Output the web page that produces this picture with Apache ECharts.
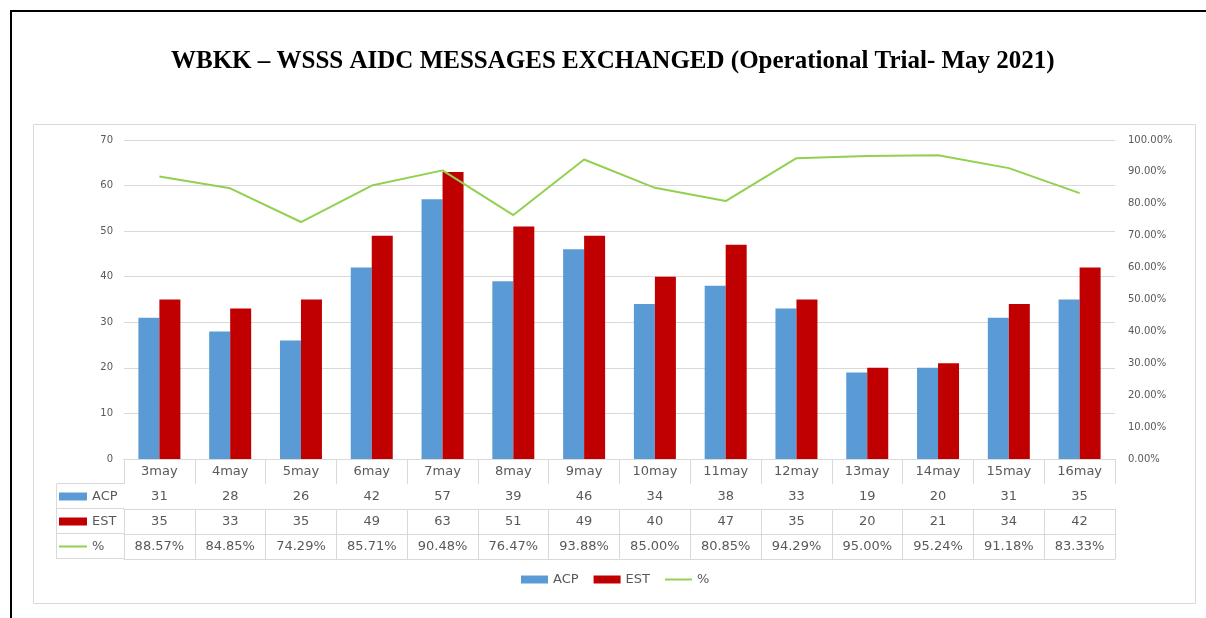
<!DOCTYPE html>
<html>
<head>
<meta charset="utf-8">
<script src="https://cdn.jsdelivr.net/npm/echarts@6/dist/echarts.min.js"></script>
<style>
  html, body { margin: 0; padding: 0; background: #fff; }
  #chart { width: 1206px; height: 618px; }
</style>
</head>
<body>
<div id="chart"></div>
<script>
var days = ['3may', '4may', '5may', '6may', '7may', '8may', '9may', '10may', '11may', '12may', '13may', '14may', '15may', '16may'];
var acp = [31, 28, 26, 42, 57, 39, 46, 34, 38, 33, 19, 20, 31, 35];
var est = [35, 33, 35, 49, 63, 51, 49, 40, 47, 35, 20, 21, 34, 42];
var pct = [88.57, 84.85, 74.29, 85.71, 90.48, 76.47, 93.88, 85.00, 80.85, 94.29, 95.00, 95.24, 91.18, 83.33];

var gridCol = '#d9d9d9';
var textCol = '#595959';
var font = 'DejaVu Sans';
var rowH = 25;

var chart = echarts.init(document.getElementById('chart'));

// one x axis per table row, stacked under the plot with offset
function tableRow(values, offset) {
  return {
    type: 'category',
    position: 'bottom',
    offset: offset,
    data: values,
    axisLine: { show: true, lineStyle: { color: gridCol, width: 1 } },
    axisTick: { show: true, inside: false, length: rowH, lineStyle: { color: gridCol } },
    axisLabel: { color: textCol, fontFamily: font, fontSize: 13, margin: 6, interval: 0 },
    splitLine: { show: false }
  };
}

var xAxes = [
  tableRow(days, 0),
  tableRow(acp.map(String), rowH),
  tableRow(est.map(String), rowH * 2),
  tableRow(pct.map(function (v) { return v.toFixed(2) + '%'; }), rowH * 3),
  {
    type: 'category', position: 'bottom', offset: rowH * 4, data: days,
    axisLine: { show: true, lineStyle: { color: gridCol } },
    axisTick: { show: false }, axisLabel: { show: false }
  }
];

var tl = 124, tr = 1115;
var graphics = [
  { type: 'rect', z: -10, shape: { x: 11, y: 11, width: 1300, height: 700 },
    style: { fill: 'none', stroke: '#000', lineWidth: 2 } },
  { type: 'rect', z: -9, shape: { x: 33.5, y: 124.5, width: 1162, height: 479 },
    style: { fill: 'none', stroke: gridCol, lineWidth: 1 } },
  { type: 'line', shape: { x1: 56.5, y1: 484, x2: 56.5, y2: 559 }, style: { stroke: gridCol, lineWidth: 1 } }
];
[484, 509, 534, 559].forEach(function (y) {
  graphics.push({ type: 'line', shape: { x1: 56.5, y1: y - 0.5, x2: tl, y2: y - 0.5 }, style: { stroke: gridCol, lineWidth: 1 } });
});

// thin bar used as the line-series legend icon
var lineIcon = 'path://M0,0 H28 V2 H0 Z';
var legendItems = [
  { name: 'ACP', icon: 'rect' },
  { name: 'EST', icon: 'rect' },
  { name: '%', icon: lineIcon }
];

var option = {
  animation: false,
  title: {
    text: 'WBKK \u2013 WSSS AIDC MESSAGES EXCHANGED (Operational Trial- May 2021)',
    left: 166, top: 44,
    textStyle: { fontFamily: 'Liberation Serif', fontWeight: 'bold', fontSize: 25, color: '#000' }
  },
  graphic: graphics,
  legend: [{
    data: legendItems,
    left: 521, top: 573, padding: 0,
    itemWidth: 27, itemHeight: 8, itemGap: 15,
    symbolKeepAspect: true,
    selectedMode: false,
    textStyle: { color: textCol, fontFamily: font, fontSize: 13 }
  }, {
    data: legendItems,
    orient: 'vertical',
    left: 59, top: 488.5, padding: 0,
    itemWidth: 28, itemHeight: 8, itemGap: 9,
    symbolKeepAspect: true,
    selectedMode: false,
    textStyle: { color: textCol, fontFamily: font, fontSize: 13, lineHeight: 16 }
  }],
  grid: { left: tl, right: 1206 - tr, top: 140, bottom: 159, containLabel: false },
  xAxis: xAxes,
  yAxis: [{
    type: 'value', min: 0, max: 70, interval: 10,
    axisLine: { show: false }, axisTick: { show: false },
    axisLabel: { color: textCol, fontFamily: font, fontSize: 10, margin: 11 },
    splitLine: { lineStyle: { color: gridCol, width: 1 } }
  }, {
    type: 'value', min: 0, max: 100, interval: 10,
    axisLine: { show: false }, axisTick: { show: false },
    axisLabel: {
      color: textCol, fontFamily: font, fontSize: 10, margin: 13,
      formatter: function (v) { return v.toFixed(2) + '%'; }
    },
    splitLine: { show: false }
  }],
  series: [{
    name: 'ACP', type: 'bar', data: acp, barWidth: 21, barGap: '0%',
    itemStyle: { color: '#5b9bd5' }
  }, {
    name: 'EST', type: 'bar', data: est, barWidth: 21, barGap: '0%',
    itemStyle: { color: '#c00000' }
  }, {
    name: '%', type: 'line', yAxisIndex: 1, data: pct, symbol: 'none',
    lineStyle: { color: '#92d050', width: 2 }, itemStyle: { color: '#92d050' }
  }]
};

chart.setOption(option);
</script>
</body>
</html>
